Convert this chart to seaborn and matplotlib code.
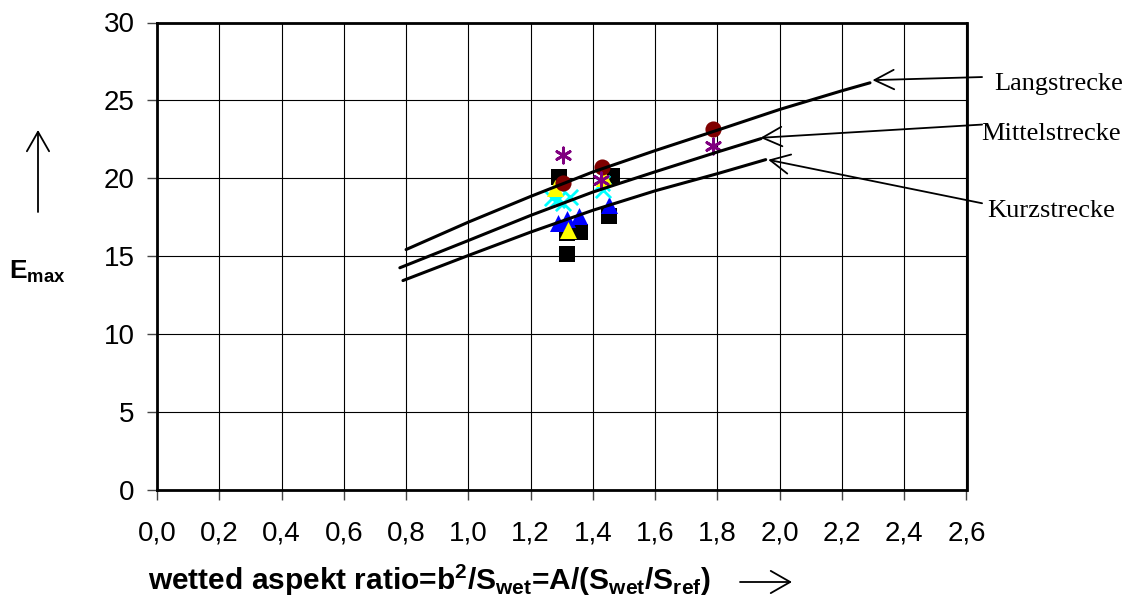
import matplotlib
matplotlib.use("Agg")
import matplotlib.pyplot as plt
import seaborn as sns

# ---------------- data ----------------
# curves (x, E_max)
lang_x = [0.80, 1.00, 1.20, 1.40, 1.60, 1.80, 2.00, 2.20, 2.29]
lang_y = [15.43, 17.19, 18.84, 20.41, 21.78, 23.09, 24.42, 25.62, 26.13]
mittel_x = [0.78, 1.00, 1.20, 1.40, 1.60, 1.80, 1.94]
mittel_y = [14.26, 16.01, 17.62, 19.12, 20.42, 21.69, 22.55]
kurz_x = [0.79, 1.00, 1.20, 1.40, 1.60, 1.80, 1.955]
kurz_y = [13.44, 15.05, 16.55, 17.95, 19.20, 20.30, 21.20]

# measured aircraft points
sq_x = [1.292, 1.316, 1.359, 1.316, 1.461, 1.453]
sq_y = [20.10, 16.48, 16.58, 15.13, 20.15, 17.59]
circ_x = [1.305, 1.428, 1.785]
circ_y = [19.72, 20.71, 23.15]
blue_x = [1.289, 1.316, 1.357, 1.453]
blue_y = [17.16, 17.37, 17.59, 18.29]
yel_x = [1.279, 1.319, 1.436]
yel_y = [19.36, 16.69, 20.00]
cyan_x = [1.284, 1.305, 1.327, 1.268, 1.428, 1.434]
cyan_y = [18.61, 18.40, 18.83, 18.72, 19.70, 19.25]
ast_x = [1.305, 1.425, 1.785]
ast_y = [21.50, 19.90, 22.08]

x_ticks = [0.0, 0.2, 0.4, 0.6, 0.8, 1.0, 1.2, 1.4, 1.6, 1.8, 2.0, 2.2, 2.4, 2.6]
y_ticks = [0, 5, 10, 15, 20, 25, 30]

labels = ["Langstrecke", "Mittelstrecke", "Kurzstrecke"]
tips = [(2.298, 26.30), (1.938, 22.60), (1.963, 21.19)]
tails = [(2.650, 26.50), (2.650, 23.45), (2.650, 18.40)]
text_pos = [(2.69, 26.05), (2.648, 22.85), (2.665, 17.90)]

# ---------------- plot ----------------
sns.set_style("white")
plt.rcParams["font.family"] = ["Liberation Sans", "DejaVu Sans"]
plt.rcParams["mathtext.fontset"] = "custom"
plt.rcParams["mathtext.rm"] = "Liberation Sans"
plt.rcParams["mathtext.bf"] = "Liberation Sans:bold"
plt.rcParams["mathtext.it"] = "Liberation Sans:italic"
plt.rcParams["text.color"] = "black"
plt.rcParams["xtick.color"] = "black"
plt.rcParams["ytick.color"] = "black"
plt.rcParams["axes.labelcolor"] = "black"

fig = plt.figure(figsize=(11.29, 6.05), dpi=100)
ax = fig.add_axes([157 / 1129, 1 - 490 / 605, (966.5 - 157) / 1129, (490 - 22.5) / 605])

sns.scatterplot(x=sq_x, y=sq_y, marker="s", s=125, color="black", linewidth=0, ax=ax, zorder=3)
sns.scatterplot(x=blue_x, y=blue_y, marker="^", s=150, color="#0000FF", linewidth=0, ax=ax, zorder=3)
sns.scatterplot(x=cyan_x, y=cyan_y, marker="x", s=120, color="#00FFFF", linewidth=2, ax=ax, zorder=3)
sns.scatterplot(x=yel_x, y=yel_y, marker="^", s=150, color="#FFFF00", linewidth=0, ax=ax, zorder=4)
sns.scatterplot(x=circ_x, y=circ_y, marker="o", s=135, color="#800000", linewidth=0, ax=ax, zorder=4)
sns.scatterplot(x=ast_x, y=ast_y, marker=(6, 2, 0), s=120, color="#800080", linewidth=2, ax=ax, zorder=5)

for cx, cy in [(lang_x, lang_y), (mittel_x, mittel_y), (kurz_x, kurz_y)]:
    sns.lineplot(x=cx, y=cy, color="black", linewidth=2.2, ax=ax, zorder=6, sort=False)

ax.set_xlim(0, 2.6)
ax.set_ylim(0, 30)
ax.set_xticks(x_ticks)
ax.set_xticklabels([f"{v:.1f}".replace(".", ",") for v in x_ticks])
ax.set_yticks(y_ticks)
ax.set_yticklabels([str(v) for v in y_ticks])
ax.tick_params(axis="both", which="major", labelsize=20, length=7, width=1, color="#444444",
               labelcolor="black", direction="out", bottom=True, left=True)
ax.tick_params(axis="x", pad=15)
ax.tick_params(axis="y", pad=9)
ax.grid(True, color="black", linewidth=0.8)
ax.set_axisbelow(True)
for sp in ax.spines.values():
    sp.set_color("black")
    sp.set_linewidth(2.0)
ax.set_xlabel("")
ax.set_ylabel("")

for lab, tip, tail, tp in zip(labels, tips, tails, text_pos):
    ax.annotate("", xy=tip, xytext=tail, xycoords="data", textcoords="data",
                arrowprops=dict(arrowstyle="->,head_length=0.7,head_width=0.35",
                                mutation_scale=20, color="black", linewidth=1.3,
                                shrinkA=0, shrinkB=0),
                annotation_clip=False, zorder=7)
    ax.text(tp[0], tp[1], lab, ha="left", va="center", fontsize=19, color="black",
            family=["Liberation Serif", "DejaVu Serif"], clip_on=False)

# axis titles with arrows
fig.text(148 / 1129, 1 - 580 / 605,
         r"wetted aspekt ratio=b$^\mathbf{2}$/S$_\mathbf{wet}$=A/(S$_\mathbf{wet}$/S$_\mathbf{ref}$)",
         ha="left", va="center", fontsize=21.5, fontweight="bold", color="black")
fig.add_artist(matplotlib.patches.FancyArrowPatch(
    (740 / 1129, 1 - 582 / 605), (792 / 1129, 1 - 582 / 605), transform=fig.transFigure,
    arrowstyle="->,head_length=0.7,head_width=0.4", mutation_scale=20,
    color="black", linewidth=1.3, shrinkA=0, shrinkB=0))

fig.text(37 / 1129, 1 - 272 / 605, r"$\mathbf{E_{max}}$", ha="center", va="center",
         fontsize=19, color="black")
fig.add_artist(matplotlib.patches.FancyArrowPatch(
    (38 / 1129, 1 - 212 / 605), (38 / 1129, 1 - 130 / 605), transform=fig.transFigure,
    arrowstyle="->,head_length=0.7,head_width=0.4", mutation_scale=20,
    color="black", linewidth=1.3, shrinkA=0, shrinkB=0))

fig.savefig("out.png", dpi=100)
